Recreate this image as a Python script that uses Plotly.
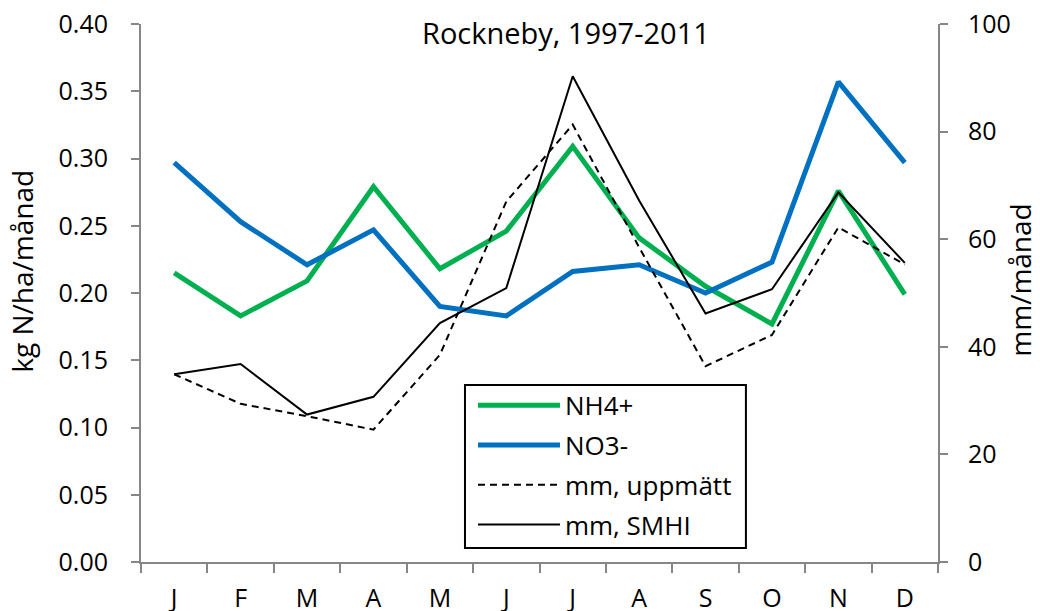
import plotly.graph_objects as go

months = ["J", "F", "M", "A", "M", "J", "J", "A", "S", "O", "N", "D"]
nh4 = [0.215, 0.183, 0.209, 0.279, 0.218, 0.246, 0.309, 0.241, 0.205, 0.177, 0.276, 0.199]
no3 = [0.297, 0.253, 0.221, 0.247, 0.190, 0.183, 0.216, 0.221, 0.200, 0.223, 0.357, 0.297]
mm_uppmatt = [34.9, 29.4, 27.1, 24.6, 38.5, 67.0, 81.3, 58.5, 36.4, 42.2, 62.2, 55.3]
mm_smhi = [34.9, 36.8, 27.4, 30.7, 44.4, 50.9, 90.3, 67.2, 46.2, 50.7, 68.7, 55.6]

x = list(range(1, len(months) + 1))
FONT = "Open Sans"
AXC = "#868686"

fig = go.Figure()
fig.add_trace(go.Scatter(x=x, y=nh4, name="NH4+", mode="lines", legendgroup="a",
                         line=dict(color="#00B050", width=5)))
fig.add_trace(go.Scatter(x=x, y=no3, name="NO3-", mode="lines", legendgroup="b",
                         line=dict(color="#0070C0", width=5)))
fig.add_trace(go.Scatter(x=x, y=mm_uppmatt, name="mm, uppmätt", mode="lines", yaxis="y2",
                         legendgroup="c",
                         line=dict(color="black", width=2, dash="7px,5px")))
fig.add_trace(go.Scatter(x=x, y=mm_smhi, name="mm, SMHI", mode="lines", yaxis="y2",
                         legendgroup="d",
                         line=dict(color="black", width=2)))

# page body adds an 8px offset; the figure is sized so the plot area lands where it should
fig.update_layout(
    template="none",
    width=1032, height=603,
    margin=dict(l=133, r=102, t=16, b=49),
    paper_bgcolor="white", plot_bgcolor="white",
    font=dict(family=FONT, size=25, color="black"),
    showlegend=True,
    legend=dict(x=0.409, y=0.335, xanchor="left", yanchor="top",
                bgcolor="rgba(0,0,0,0)", borderwidth=0,
                font=dict(size=26), itemwidth=82, tracegroupgap=3, indentation=6),
    shapes=[
        # legend frame
        dict(type="rect", xref="paper", yref="paper", x0=0.4065, x1=0.759,
             y0=0.026, y1=0.329, line=dict(color="black", width=2),
             fillcolor="white", layer="above"),
    ],
    xaxis=dict(range=[0.5, 12.5], tickmode="array", tickvals=x, ticktext=months,
               ticks="", showline=True, linecolor=AXC, linewidth=2, showgrid=False,
               zeroline=False, ticklabelstandoff=13, automargin=False,
               ticklabeloverflow="allow",
               minor=dict(tick0=0.5, dtick=1, ticks="outside", ticklen=9,
                          tickcolor=AXC, tickwidth=2, showgrid=False)),
    yaxis=dict(range=[0, 0.40], dtick=0.05, tickformat=".2f", ticks="outside",
               ticklen=8, tickcolor=AXC, tickwidth=2, showline=True, linecolor=AXC,
               linewidth=2, showgrid=False, zeroline=False, ticklabelstandoff=18,
               automargin=False, ticklabeloverflow="allow"),
    yaxis2=dict(range=[0, 100], dtick=20, overlaying="y", side="right",
                ticks="outside", ticklen=8, tickcolor=AXC, tickwidth=2, showline=True,
                linecolor=AXC, linewidth=2, showgrid=False, zeroline=False,
                ticklabelstandoff=15, automargin=False, ticklabeloverflow="allow"),
    annotations=[
        dict(text="Rockneby, 1997-2011", xref="paper", yref="paper", x=0.533, y=0.985,
             showarrow=False, font=dict(size=29), xanchor="center", yanchor="middle"),
        dict(text="kg N/ha/månad", xref="paper", yref="paper", x=-0.149, y=0.540,
             showarrow=False, textangle=-90, xanchor="center", yanchor="middle",
             font=dict(size=28)),
        dict(text="mm/månad", xref="paper", yref="paper", x=1.103, y=0.523,
             showarrow=False, textangle=-90, xanchor="center", yanchor="middle",
             font=dict(size=28)),
    ],
)

fig.write_html("out.html")
